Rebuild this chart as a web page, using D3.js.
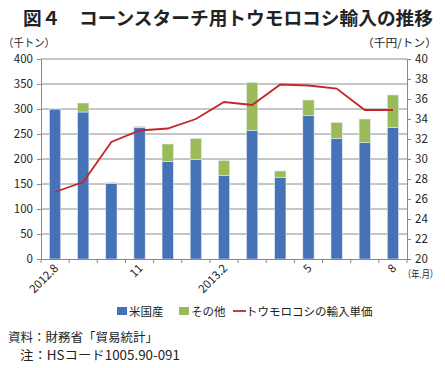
<!DOCTYPE html>
<html>
<head>
<meta charset="utf-8">
<script src="https://cdn.jsdelivr.net/npm/d3@7"></script>
<style>
body { margin: 0; background: #fff; }
svg text { font-family: "Noto Sans CJK JP", "Noto Sans", sans-serif; fill: #222; }
</style>
</head>
<body>
<svg id="chart" width="445" height="368"></svg>
<script>
// data
const months = ["2012.8", "9", "10", "11", "12", "2013.1", "2013.2", "3", "4", "5", "6", "7", "8"];
const tickLabels = {"2012.8": "2012.8", "11": "11", "2013.2": "2013.2", "5": "5", "8": "8"};
const usa = [300, 294, 151, 263, 195, 199, 167, 257, 163, 287, 241, 233, 263];
const others = [1, 18, 2, 2, 35, 42, 30, 96, 13, 31, 32, 47, 65];
const unitPrice = [26.7, 27.7, 31.7, 32.85, 33.05, 34.0, 35.7, 35.4, 37.45, 37.35, 37.05, 34.9, 34.9];

const blue = "#4672b8", green = "#9bbb59", red = "#c0282a";

const margin = {top: 59, right: 38, bottom: 109, left: 41};
const W = 445, H = 368;
const width = W - margin.left - margin.right;
const height = H - margin.top - margin.bottom;

const svg = d3.select("#chart");

// title
svg.append("text")
	.attr("x", 23).attr("y", 25)
	.attr("font-size", 18.5).attr("font-weight", "bold")
	.attr("textLength", 410).attr("lengthAdjust", "spacingAndGlyphs")
	.text("図４　コーンスターチ用トウモロコシ輸入の推移");

svg.append("text").attr("x", 3).attr("y", 47).attr("font-size", 11)
	.attr("textLength", 52).attr("lengthAdjust", "spacingAndGlyphs").text("（千トン）");
svg.append("text").attr("x", 362).attr("y", 47).attr("font-size", 11)
	.attr("textLength", 75).attr("lengthAdjust", "spacingAndGlyphs").text("（千円/トン）");

const g = svg.append("g").attr("transform", `translate(${margin.left},${margin.top})`);

const x = d3.scaleBand().domain(months).range([0, width]).paddingInner(0.6).paddingOuter(0.3);
const xb = d3.scaleBand().domain(months).range([0, width]);
const y = d3.scaleLinear().domain([0, 400]).range([height, 0]);
const y2 = d3.scaleLinear().domain([20, 40]).range([height, 0]);

// gridlines
g.append("g")
	.selectAll("line").data(y.ticks(8).filter(d => d > 0))
	.join("line")
	.attr("x1", 0).attr("x2", width)
	.attr("y1", d => y(d)).attr("y2", d => y(d))
	.attr("stroke", "#8c8c8c").attr("stroke-width", 1);

// stacked bars
const stackData = months.map((m, i) => ({m, usa: usa[i], others: others[i]}));
const series = d3.stack().keys(["usa", "others"])(stackData);
const colors = {usa: blue, others: green};

g.append("g").selectAll("g").data(series).join("g")
	.attr("fill", d => colors[d.key])
	.selectAll("rect").data(d => d).join("rect")
	.attr("x", d => x(d.data.m))
	.attr("width", x.bandwidth())
	.attr("y", d => y(d[1]))
	.attr("height", d => y(d[0]) - y(d[1]))
	.attr("stroke", "#dfe8f3").attr("stroke-width", 0.6);

// price line
const line = d3.line()
	.x((d, i) => xb(months[i]) + xb.bandwidth() / 2)
	.y(d => y2(d));
g.append("path").datum(unitPrice)
	.attr("d", line)
	.attr("fill", "none").attr("stroke", red).attr("stroke-width", 1.8);

// axes
const yAxis = g.append("g")
	.call(d3.axisLeft(y).ticks(8).tickSize(4).tickPadding(4));
yAxis.selectAll("text").attr("font-size", 11.5).attr("font-family", "'Noto Sans', sans-serif");

const yAxis2 = g.append("g").attr("transform", `translate(${width},0)`)
	.call(d3.axisRight(y2).ticks(10).tickSize(4).tickPadding(4));
yAxis2.selectAll("text").attr("font-size", 11.5).attr("font-family", "'Noto Sans', sans-serif");

const xAxis = g.append("g").attr("transform", `translate(0,${height})`)
	.call(d3.axisBottom(xb).tickSize(0).tickFormat(""));
xAxis.selectAll(".tick").remove();
xAxis.selectAll(".bound").data(d3.range(months.length + 1)).join("line")
	.attr("x1", i => i * xb.step()).attr("x2", i => i * xb.step())
	.attr("y1", 0).attr("y2", 4).attr("stroke", "#888");

[yAxis, yAxis2, xAxis].forEach(a => {
	a.select(".domain").attr("stroke", "#888");
	a.selectAll(".tick line").attr("stroke", "#888");
});

g.append("g").selectAll("text")
	.data(months.filter(m => tickLabels[m]))
	.join("text")
	.attr("transform", m => `translate(${xb(m) + xb.bandwidth() / 2 + 4},${height + 10}) rotate(-45)`)
	.attr("text-anchor", "end")
	.attr("font-size", 11.5)
	.attr("font-family", "'Noto Sans', sans-serif")
	.text(m => tickLabels[m]);

svg.append("text").attr("x", 403).attr("y", 278).attr("font-size", 10)
	.attr("textLength", 35).attr("lengthAdjust", "spacingAndGlyphs").text("（年.月）");

// legend
const legend = svg.append("g").attr("transform", "translate(117,311)");
legend.append("rect").attr("x", 0).attr("y", -4).attr("width", 10).attr("height", 8).attr("fill", blue);
legend.append("text").attr("x", 12).attr("y", 4.5).attr("font-size", 11.5).text("米国産");
legend.append("rect").attr("x", 62).attr("y", -4).attr("width", 10).attr("height", 8).attr("fill", green);
legend.append("text").attr("x", 74).attr("y", 4.5).attr("font-size", 11.5).text("その他");
legend.append("line").attr("x1", 116).attr("x2", 129).attr("y1", 0).attr("y2", 0)
	.attr("stroke", red).attr("stroke-width", 1.8);
legend.append("text").attr("x", 129).attr("y", 4.5).attr("font-size", 11.5).text("トウモロコシの輸入単価");

// source notes
svg.append("text").attr("x", 8).attr("y", 342).attr("font-size", 12.5).text("資料：財務省「貿易統計」");
svg.append("text").attr("x", 20).attr("y", 360).attr("font-size", 12.5)
	.attr("textLength", 160).attr("lengthAdjust", "spacingAndGlyphs").text("注：HSコード1005.90-091");
</script>
</body>
</html>
